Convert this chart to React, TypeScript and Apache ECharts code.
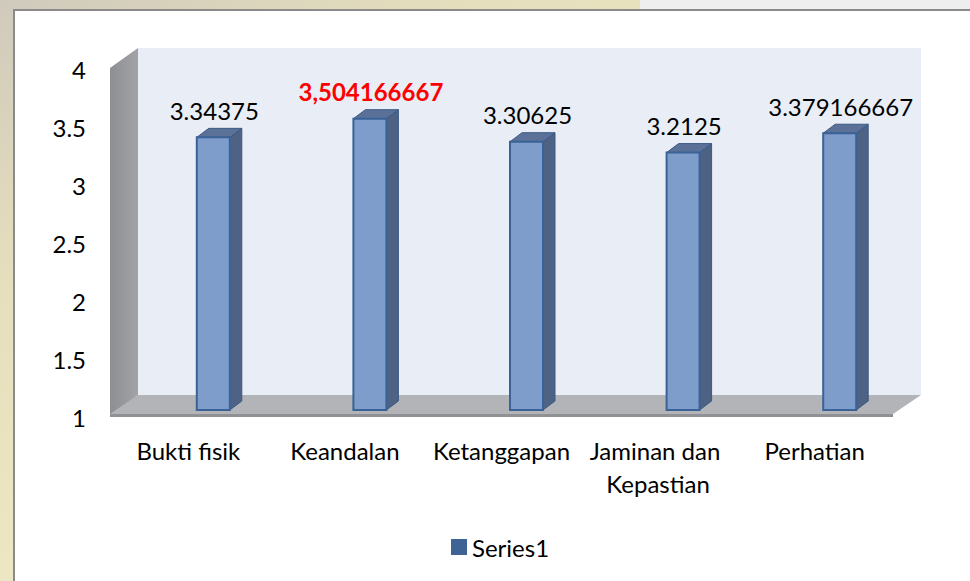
import React, { useEffect, useRef } from "react";
import * as echarts from "echarts";

const categories = ["Bukti fisik", "Keandalan", "Ketanggapan", "Jaminan dan Kepastian", "Perhatian"];
const values = [3.34375, 3.504166667, 3.30625, 3.2125, 3.379166667];
const highlightIndex = 1;
const seriesName = "Series1";
const yTicks = { min: 1, max: 4, interval: 0.5 };

const FONT = 'Lato, "Open Sans", sans-serif';
const FS = 24;

export default function App() {
  const ref = useRef<HTMLDivElement>(null);
  useEffect(() => {
    if (!ref.current) return;
    const chart = echarts.init(ref.current, null, { renderer: "svg" });
    const fmt = (v: number, i: number) =>
      i === highlightIndex ? String(v).replace(".", ",") : String(v);
    chart.setOption({
      animation: false,
      textStyle: { fontFamily: FONT, color: "#000" },
      graphic: [
        {
          type: "rect",
          z: -10,
          shape: { x: 0, y: 0, width: 970, height: 581 },
          style: {
            fill: {
              type: "linear", x: 0, y: 0, x2: 1, y2: 1,
              colorStops: [
                { offset: 0, color: "#cfcabc" },
                { offset: 0.25, color: "#e6dfbd" },
                { offset: 0.6, color: "#efe9c4" },
                { offset: 1, color: "#f2f0e6" },
              ],
            },
          },
        },
        {
          type: "rect",
          z: -9,
          shape: { x: 640, y: 0, width: 330, height: 10 },
          style: { fill: "#eeeeee" },
        },
        {
          type: "rect",
          z: -8,
          shape: { x: 14, y: 10, width: 960, height: 580 },
          style: { fill: "#ffffff", stroke: "#8a8a8a", lineWidth: 2 },
        },
        {
          type: "polygon",
          z: -5,
          shape: { points: [[138, 48], [921, 48], [921, 395], [138, 395]] },
          style: { fill: "#e9edf6" },
        },
        {
          type: "polygon",
          z: -5,
          shape: { points: [[110, 68], [138, 48], [138, 395], [110, 417]] },
          style: {
            fill: {
              type: "linear", x: 0, y: 0, x2: 1, y2: 0,
              colorStops: [
                { offset: 0, color: "#8e8f93" },
                { offset: 1, color: "#a2a3a7" },
              ],
            },
          },
        },
        {
          type: "polygon",
          z: -5,
          shape: { points: [[110, 414], [138, 395], [921, 395], [893, 414]] },
          style: { fill: "#b2b4b7" },
        },
        {
          type: "polygon",
          z: -5,
          shape: { points: [[110, 414], [893, 414], [893, 417], [110, 417]] },
          style: { fill: "#8f9194" },
        },
      ],
      legend: {
        data: [seriesName],
        left: 446,
        top: 530,
        icon: "rect",
        itemWidth: 16,
        itemHeight: 16,
        itemGap: 10,
        textStyle: { fontSize: FS, fontFamily: FONT, color: "#000" },
      },
      grid: [
        { left: 110, right: 77, top: 69, bottom: 164 },
        { left: 135, right: 52, top: 61, bottom: 171 },
      ],
      xAxis: [
        {
          type: "category",
          gridIndex: 0,
          data: categories,
          axisLine: { show: false },
          axisTick: { show: false },
          axisLabel: {
            interval: 0,
            fontSize: FS,
            margin: 17,
            lineHeight: 33,
            width: 150,
            overflow: "break",
            color: "#000",
            fontFamily: FONT,
          },
        },
        {
          type: "category",
          gridIndex: 1,
          data: categories,
          show: false,
        },
      ],
      yAxis: [
        {
          type: "value",
          gridIndex: 0,
          min: yTicks.min,
          max: yTicks.max,
          interval: yTicks.interval,
          axisLine: { show: false },
          axisTick: { show: false },
          splitLine: { show: false },
          axisLabel: { fontSize: FS, margin: 24, color: "#000", fontFamily: FONT },
        },
        {
          type: "value",
          gridIndex: 1,
          min: yTicks.min,
          max: yTicks.max,
          interval: yTicks.interval,
          show: false,
          splitLine: { show: false },
        },
      ],
      series: [
        {
          type: "custom",
          name: seriesName,
          xAxisIndex: 1,
          yAxisIndex: 1,
          itemStyle: { color: "#3e6496" },
          data: values.map((v, i) => [i, v]),
          renderItem: (params: any, api: any) => {
            const i = api.value(0);
            const v = api.value(1);
            const top = api.coord([i, v]);
            const base = api.coord([i, yTicks.min]);
            const w = 33, dx = 12, dy = 9;
            const x0 = top[0] - w / 2, x1 = top[0] + w / 2;
            const hl = params.dataIndex === highlightIndex;
            return {
              type: "group",
              children: [
                {
                  type: "polygon",
                  shape: { points: [[x1, top[1]], [x1 + dx, top[1] - dy], [x1 + dx, base[1] - dy], [x1, base[1]]] },
                  style: { fill: "#4e6283", stroke: "#3a5a86", lineWidth: 1 },
                },
                {
                  type: "polygon",
                  shape: { points: [[x0, top[1]], [x0 + dx, top[1] - dy], [x1 + dx, top[1] - dy], [x1, top[1]]] },
                  style: { fill: "#5b7198", stroke: "#3a5a86", lineWidth: 1 },
                },
                {
                  type: "rect",
                  shape: { x: x0, y: top[1], width: w, height: base[1] - top[1] },
                  style: { fill: "#7f9dcb", stroke: "#3b6296", lineWidth: 2 },
                },
                {
                  type: "text",
                  style: {
                    text: fmt(values[params.dataIndex], params.dataIndex),
                    x: top[0] + 1,
                    y: top[1] - 27,
                    align: "center",
                    verticalAlign: "middle",
                    fontSize: FS,
                    fontFamily: FONT,
                    fontWeight: hl ? "bold" : "normal",
                    fill: hl ? "#ff0000" : "#000000",
                  },
                },
              ],
            };
          },
        },
      ],
    });
    return () => chart.dispose();
  }, []);
  return (
    <div
      ref={ref}
      style={{ position: "absolute", left: 0, top: 0, width: 970, height: 581 }}
    />
  );
}
